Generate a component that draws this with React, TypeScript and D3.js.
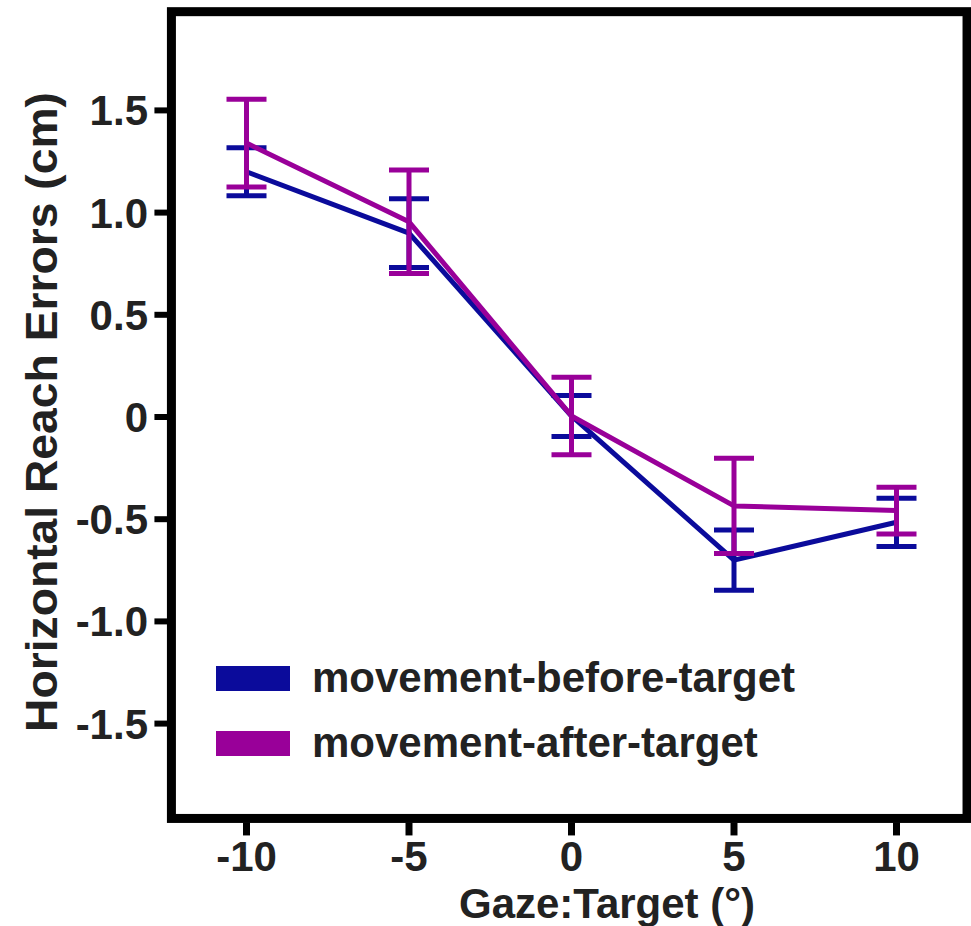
import { useEffect } from "react";
import * as d3 from "d3";

// Gaze relative to target (deg)
const gaze = [-10, -5, 0, 5, 10];

// movement-before-target
const beforeMean = [1.2, 0.9, 0.005, -0.7, -0.515];
const beforeErr = [0.117, 0.168, 0.1, 0.147, 0.118];

// movement-after-target
const afterMean = [1.34, 0.955, 0.005, -0.435, -0.458];
const afterErr = [0.215, 0.253, 0.19, 0.233, 0.114];

const xTicks = [-10, -5, 0, 5, 10];
const yTicks = [-1.5, -1.0, -0.5, 0, 0.5, 1.0, 1.5];
const yTickLabels = ["-1.5", "-1.0", "-0.5", "0", "0.5", "1.0", "1.5"];

const seriesNames = ["movement-before-target", "movement-after-target"];
const seriesColors = ["#0b0b9b", "#990099"];

const W = 971;
const H = 926;
const FONT = "'Liberation Sans', Arial, Helvetica, sans-serif";
const TEXT = "#222";

export default function App() {
  useEffect(() => {
    document.body.style.margin = "0";
  }, []);

  const x = d3.scaleLinear().domain([-10, 10]).range([246.5, 896.5]);
  const y = d3.scaleLinear().domain([-1.5, 1.5]).range([723.6, 110.4]);

  // frame edges (stroke centres)
  const fx0 = x(-12.31);
  const fx1 = x(12.17);
  const fy0 = y(1.983);
  const fy1 = y(-1.964);

  const line = d3
    .line<number>()
    .x((_, i) => x(gaze[i]))
    .y((d) => y(d));

  const series = [
    { mean: beforeMean, err: beforeErr },
    { mean: afterMean, err: afterErr },
  ];

  const capHalf = 20;

  return (
    <svg width={W} height={H} style={{ display: "block", background: "#fff" }}>
      {/* error bars and lines */}
      {series.map((s, si) => (
        <g key={si}>
          {s.mean.map((m, i) => {
            const cx = x(gaze[i]);
            const top = y(m + s.err[i]);
            const bot = y(m - s.err[i]);
            return (
              <g key={i} stroke={seriesColors[si]} strokeWidth={5}>
                <line x1={cx} x2={cx} y1={top} y2={bot} />
                <line x1={cx - capHalf} x2={cx + capHalf} y1={top} y2={top} />
                <line x1={cx - capHalf} x2={cx + capHalf} y1={bot} y2={bot} />
              </g>
            );
          })}
          <path
            d={line(s.mean) || ""}
            fill="none"
            stroke={seriesColors[si]}
            strokeWidth={5}
            strokeLinejoin="round"
          />
        </g>
      ))}

      {/* frame */}
      <rect
        x={fx0}
        y={fy0}
        width={fx1 - fx0}
        height={fy1 - fy0}
        fill="none"
        stroke="#000"
        strokeWidth={9}
      />

      {/* y axis */}
      {yTicks.map((t, i) => (
        <g key={t}>
          <line
            x1={fx0 - 17}
            x2={fx0 - 4}
            y1={y(t)}
            y2={y(t)}
            stroke="#000"
            strokeWidth={6}
          />
          <text
            x={148}
            y={y(t) + 15}
            textAnchor="end"
            fontFamily={FONT}
            fontWeight="bold"
            fontSize={42}
            fill={TEXT}
          >
            {yTickLabels[i]}
          </text>
        </g>
      ))}
      <text
        transform={`translate(57, 412) rotate(-90)`}
        textAnchor="middle"
        fontFamily={FONT}
        fontWeight="bold"
        fontSize={44}
        textLength={640}
        lengthAdjust="spacingAndGlyphs"
        fill={TEXT}
      >
        Horizontal Reach Errors (cm)
      </text>

      {/* x axis */}
      {xTicks.map((t) => (
        <g key={t}>
          <line
            x1={x(t)}
            x2={x(t)}
            y1={fy1 + 4}
            y2={fy1 + 17}
            stroke="#000"
            strokeWidth={7}
          />
          <text
            x={x(t)}
            y={871}
            textAnchor="middle"
            fontFamily={FONT}
            fontWeight="bold"
            fontSize={42}
            fill={TEXT}
          >
            {t}
          </text>
        </g>
      ))}
      <text
        x={607}
        y={918}
        textAnchor="middle"
        fontFamily={FONT}
        fontWeight="bold"
        fontSize={42}
        fill={TEXT}
      >
        Gaze:Target (°)
      </text>

      {/* legend */}
      {seriesNames.map((n, i) => (
        <g key={n}>
          <rect x={216} y={666 + i * 65} width={74} height={25} fill={seriesColors[i]} />
          <text
            x={312}
            y={692 + i * 65}
            fontFamily={FONT}
            fontWeight="bold"
            fontSize={42}
            fill={TEXT}
          >
            {n}
          </text>
        </g>
      ))}
    </svg>
  );
}
